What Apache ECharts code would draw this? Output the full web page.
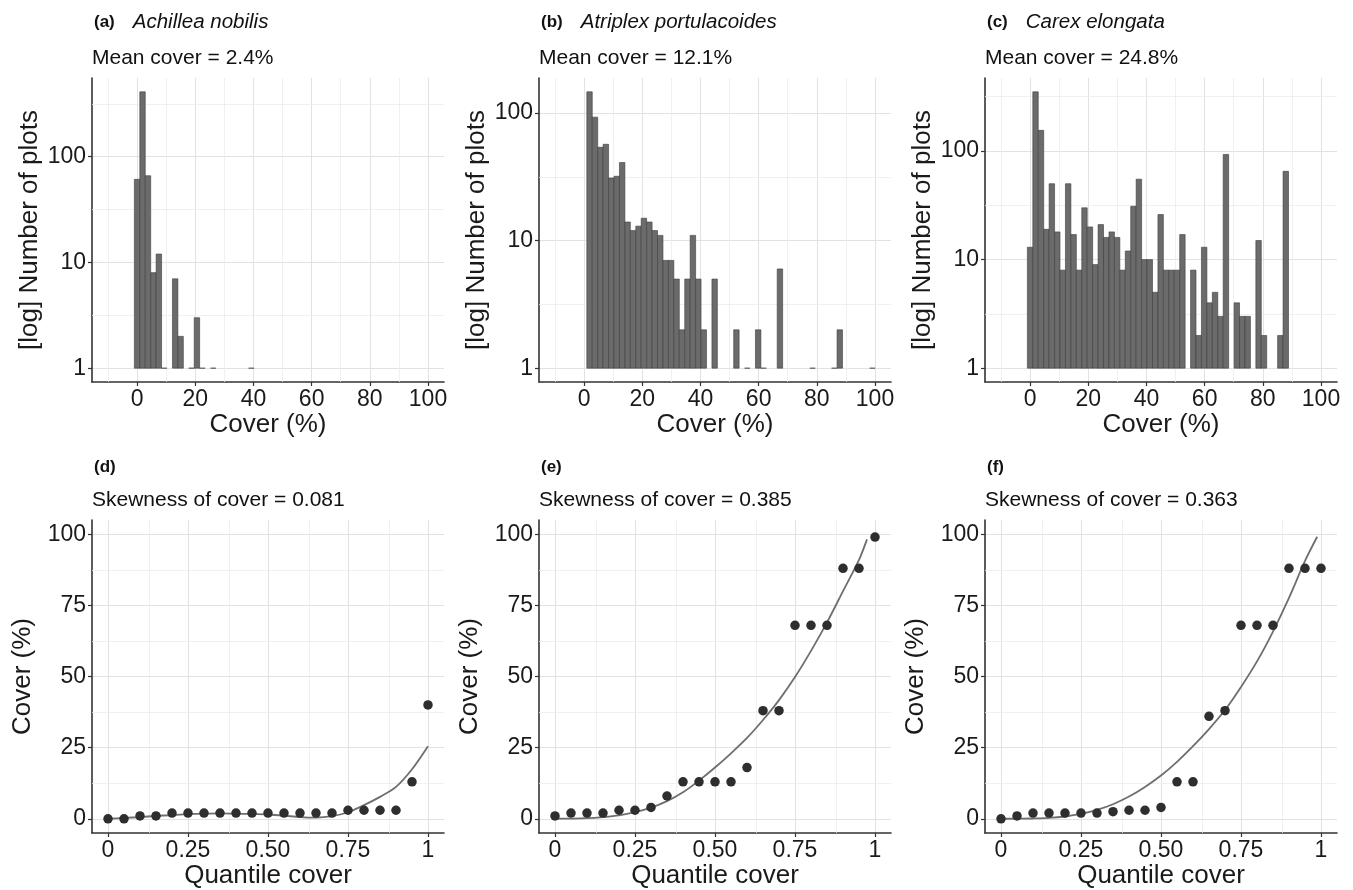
<!DOCTYPE html>
<html><head><meta charset="utf-8">
<script src="https://cdn.jsdelivr.net/npm/echarts@6/dist/echarts.min.js"></script>
<style>html,body{margin:0;padding:0;background:#fff}#c{width:1353px;height:890px}</style>
</head><body><div id="c"></div>
<script>
// ---------- data ----------
const binWidth = 1.87; // histogram bin width (% cover), bins centred on k*binWidth
const countsA = [61,410,66,8,12,1,0,7,2,0,1,3,1,0,1,0,0,0,0,0,0,1];
const countsB = [0,147,93,54,57,31,32,41,14,12,13,15,14,12,11,7,7,5,2,5,11,5,2,0,5,0,0,0,2,0,1,0,2,1,0,0,6,0,0,0,0,0,1,0,0,0,1,2,0,0,0,0,0,1];
const countsC = [13,351,155,19,50,18,8,50,17,8,30,20,9,21,16,18,16,8,12,31,55,10,10,5,26,8,8,8,17,0,8,2,13,4,5,3,93,0,4,3,3,0,15,2,0,0,2,65];
const histTicks = [0,20,40,60,80,100];
const histMinor = [-10,10,30,50,70,90];
const logTicks = [1,10,100];
const logMinor = [3.162,31.62,316.2];

const quantiles = [0,0.05,0.1,0.15,0.2,0.25,0.3,0.35,0.4,0.45,0.5,0.55,0.6,0.65,0.7,0.75,0.8,0.85,0.9,0.95,1];
const quantTicks = [0,0.25,0.5,0.75,1];
const quantTickLabels = ['0','0.25','0.50','0.75','1'];
const quantMinor = [0.125,0.375,0.625,0.875];
const coverTicks = [0,25,50,75,100];
const coverMinor = [12.5,37.5,62.5,87.5];
const pointsD = [0,0,1,1,2,2,2,2,2,2,2,2,2,2,2,3,3,3,3,13,40];
const pointsE = [1,2,2,2,3,3,4,8,13,13,13,13,18,38,38,68,68,68,88,88,99];
const pointsF = [0,1,2,2,2,2,2,2.5,3,3,4,13,13,36,38,68,68,68,88,88,88];
const curveXD = [0,0.05,0.1,0.15,0.2,0.25,0.3,0.35,0.4,0.45,0.5,0.55,0.6,0.65,0.7,0.75,0.8,0.85,0.9,0.95,1];
const curveYD = [0,0.3,0.6,1.0,1.3,1.6,1.8,1.9,1.8,1.7,1.5,1.1,0.6,0.4,0.9,2.3,4.8,7.7,11.2,17.4,25.5];
const curveXE = [0,0.05,0.1,0.15,0.2,0.25,0.3,0.35,0.4,0.45,0.5,0.55,0.6,0.65,0.7,0.75,0.8,0.85,0.9,0.95,0.975];
const curveYE = [0,0.05,0.2,0.6,1.2,2.3,3.9,6.2,9.3,13.4,18,23,28.4,34.7,41.7,49.8,59,69,80,91,98.2];
const curveXF = [0,0.05,0.1,0.15,0.2,0.25,0.3,0.35,0.4,0.45,0.5,0.55,0.6,0.65,0.7,0.75,0.8,0.85,0.9,0.95,0.988];
const curveYF = [0,0.02,0.1,0.3,0.8,1.7,3.1,5.1,7.8,11.2,15.2,20,25.5,31.5,38.2,46.3,55.3,65.8,77.6,90.6,99.1];

const histTitles = [['(a)','Achillea nobilis'],['(b)','Atriplex portulacoides'],['(c)','Carex elongata']];
const histSubtitles = ['Mean cover = 2.4%','Mean cover = 12.1%','Mean cover = 24.8%'];
const qqTitles = ['(d)','(e)','(f)'];
const qqSubtitles = ['Skewness of cover = 0.081','Skewness of cover = 0.385','Skewness of cover = 0.363'];

// ---------- layout ----------
const FONT = '"Liberation Sans", Arial, Helvetica, sans-serif';
const lefts = [92, 539, 985];
const topRow = {top: 78, height: 304};
const botRow = {top: 520, height: 313};
const W = 352;
const AX = '#333333', TXT = '#1a1a1a', GRID = '#e2e2e2', GRIDMIN = '#ececec';

const grids = [], xAxes = [], yAxes = [], series = [], titles = [];

function axisCommon(ticks, fmt) {
  return {
    axisLine: {show: true, onZero: false, lineStyle: {color: AX, width: 1.6}},
    axisTick: {show: true, length: 4, customValues: ticks, lineStyle: {color: AX, width: 1.2}},
    axisLabel: {customValues: ticks, fontSize: 23, color: TXT, fontFamily: FONT, formatter: fmt, margin: 6},
    splitLine: {show: true, lineStyle: {color: GRID, width: 1}},
    nameTextStyle: {fontSize: 26, color: TXT, fontFamily: FONT},
    nameLocation: 'middle'
  };
}

function gridLines(idx, xs, ys) {
  const d = [];
  xs.forEach(v => d.push({xAxis: v}));
  ys.forEach(v => d.push({yAxis: v}));
  series.push({
    type: 'line', xAxisIndex: idx, yAxisIndex: idx, data: [], silent: true,
    markLine: {silent: true, symbol: ['none','none'], z: 1, label: {show: false},
      lineStyle: {color: GRIDMIN, width: 0.8, type: 'solid'}, data: d}
  });
}

const histCounts = [countsA, countsB, countsC];
histCounts.forEach((counts, i) => {
  const maxC = Math.max(...counts);
  const R = Math.log10(maxC);
  grids.push({left: lefts[i], top: topRow.top, width: W, height: topRow.height});
  xAxes.push(Object.assign(axisCommon(histTicks, v => String(Math.round(v))), {
    type: 'value', gridIndex: i, min: -15.5, max: 105.5, name: 'Cover (%)', nameGap: 30
  }));
  yAxes.push(Object.assign(axisCommon(logTicks, v => String(Math.round(v))), {
    type: 'log', logBase: 10, gridIndex: i,
    min: Math.pow(10, -0.05 * R), max: Math.pow(10, 1.05 * R),
    name: '[log] Number of plots', nameGap: 49, nameRotate: 90
  }));
  gridLines(i, histMinor, logMinor);
  const data = [];
  counts.forEach((c, k) => { if (c > 0) data.push([k * binWidth, c]); });
  series.push({
    type: 'custom', xAxisIndex: i, yAxisIndex: i, data: data, z: 3,
    renderItem: function (params, api) {
      const x = api.value(0), c = api.value(1);
      const p0 = api.coord([x - binWidth / 2, c]);
      const p1 = api.coord([x + binWidth / 2, 1]);
      return {type: 'rect', shape: {x: p0[0], y: p0[1], width: p1[0] - p0[0], height: p1[1] - p0[1]},
        style: {fill: '#6b6b6b', stroke: '#3d3d3d', lineWidth: 0.6}};
    }
  });
  titles.push({left: lefts[i] + 2, top: 12, padding: 0,
    text: '{a|' + histTitles[i][0] + '}{b|' + histTitles[i][1] + '}',
    textStyle: {fontWeight: 'normal', rich: {
      a: {fontSize: 17, fontWeight: 'bold', color: '#111', fontFamily: FONT},
      b: {fontSize: 20.5, fontStyle: 'italic', fontWeight: 'normal', color: '#111', fontFamily: FONT, padding: [0, 0, 0, 18]}}}});
  titles.push({left: lefts[i], top: 48, padding: 0, text: histSubtitles[i],
    textStyle: {fontSize: 21, fontWeight: 'normal', color: '#111', fontFamily: FONT}});
});

const qqPoints = [pointsD, pointsE, pointsF];
const qqCurveX = [curveXD, curveXE, curveXF];
const qqCurveY = [curveYD, curveYE, curveYF];
qqPoints.forEach((pts, j) => {
  const i = j + 3;
  grids.push({left: lefts[j], top: botRow.top, width: W, height: botRow.height});
  xAxes.push(Object.assign(axisCommon(quantTicks, v => quantTickLabels[quantTicks.indexOf(Math.round(v * 100) / 100)]), {
    type: 'value', gridIndex: i, min: -0.05, max: 1.05, name: 'Quantile cover', nameGap: 29
  }));
  yAxes.push(Object.assign(axisCommon(coverTicks, v => String(Math.round(v))), {
    type: 'value', gridIndex: i, min: -5, max: 105, name: 'Cover (%)', nameGap: 56, nameRotate: 90
  }));
  gridLines(i, quantMinor, coverMinor);
  series.push({
    type: 'line', xAxisIndex: i, yAxisIndex: i, z: 3,
    data: qqCurveX[j].map((x, k) => [x, qqCurveY[j][k]]),
    showSymbol: false, smooth: 0.3, lineStyle: {color: '#6e6e6e', width: 1.8}
  });
  series.push({
    type: 'scatter', xAxisIndex: i, yAxisIndex: i, z: 4,
    data: quantiles.map((q, k) => [q, pts[k]]),
    symbolSize: 9.5, itemStyle: {color: '#2e2e2e', opacity: 1}
  });
  titles.push({left: lefts[j] + 2, top: 459, padding: 0, text: qqTitles[j],
    textStyle: {fontSize: 17, fontWeight: 'bold', color: '#111', fontFamily: FONT}});
  titles.push({left: lefts[j], top: 490, padding: 0, text: qqSubtitles[j],
    textStyle: {fontSize: 21, fontWeight: 'normal', color: '#111', fontFamily: FONT}});
});

const chart = echarts.init(document.getElementById('c'), null, {renderer: 'canvas'});
chart.setOption({
  animation: false,
  backgroundColor: '#ffffff',
  textStyle: {fontFamily: FONT},
  title: titles,
  grid: grids,
  xAxis: xAxes,
  yAxis: yAxes,
  series: series
});
</script></body></html>
